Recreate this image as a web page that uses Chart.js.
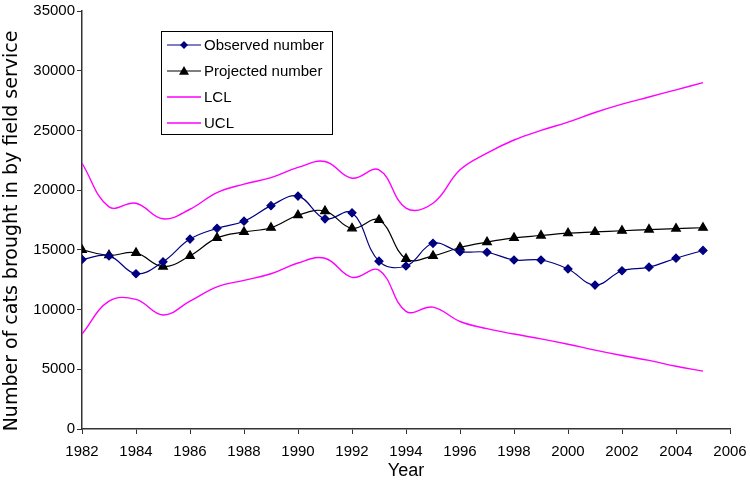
<!DOCTYPE html>
<html>
<head>
<meta charset="utf-8">
<script src="https://cdn.jsdelivr.net/npm/chart.js@4.4.1/dist/chart.umd.min.js"></script>
<style>
  html, body { margin: 0; padding: 0; background: #fff; }
  #wrap { width: 750px; height: 484px; }
</style>
</head>
<body>
<div id="wrap"><canvas id="catsChart" width="750" height="484"></canvas></div>
<script>
const years = [1982,1983,1984,1985,1986,1987,1988,1989,1990,1991,1992,1993,
               1994,1995,1996,1997,1998,1999,2000,2001,2002,2003,2004,2005];

const observed = [14200,14500,13000,14000,15900,16800,17400,18700,19500,17600,18100,14050,
                  13650,15550,14850,14800,14150,14150,13400,12050,13250,13550,14300,14950];

const projected = [15000,14550,14750,13600,14500,16000,16500,16850,17900,18250,16800,17500,
                   14250,14500,15200,15650,16000,16200,16400,16500,16600,16700,16780,16850];

const lcl = [7950,10700,10850,9550,10700,11900,12450,13000,13900,14300,12700,13300,
             9850,10200,9000,8400,7950,7550,7100,6600,6150,5750,5250,4850];

const ucl = [22250,18600,18900,17600,18400,19800,20500,21050,21900,22400,21000,21700,
             18500,18900,21700,23100,24200,25000,25700,26500,27200,27800,28400,29000];

const xTicks = { min: 1982, max: 2006, step: 2 };
const yTicks = { min: 0, max: 35000, step: 5000 };

const yTitle = "Number of cats brought in by field service";

const toPoints = arr => arr.map((v, i) => ({ x: years[i], y: v }));

const tickFont = { family: "'Liberation Sans', Arial, sans-serif", size: 15 };

// legend box drawn inside the plot, like the Excel original
const boxLegend = {
  id: "boxLegend",
  afterDraw(chart) {
    const c = chart.ctx;
    const left = 161, top = 31, w = 171, h = 103;
    c.save();
    c.fillStyle = "#fff";
    c.fillRect(left, top, w, h);
    c.strokeStyle = "#000";
    c.lineWidth = 1;
    c.strokeRect(left + 0.5, top + 0.5, w, h);
    const rows = [45, 71, 97, 123];
    chart.data.datasets.forEach((ds, i) => {
      const y = rows[i];
      c.strokeStyle = ds.borderColor;
      c.lineWidth = ds.borderWidth;
      c.beginPath();
      c.moveTo(167, y);
      c.lineTo(201, y);
      c.stroke();
      if (ds.pointRadius > 0) {
        c.fillStyle = ds.pointBackgroundColor;
        c.beginPath();
        if (ds.pointStyle === "rectRot") {
          const r = 4;
          c.moveTo(184, y - r); c.lineTo(184 + r, y); c.lineTo(184, y + r); c.lineTo(184 - r, y);
        } else {
          const r = 5;
          c.moveTo(184, y - r); c.lineTo(184 + r, y + r * 0.75); c.lineTo(184 - r, y + r * 0.75);
        }
        c.closePath();
        c.fill();
      }
      c.fillStyle = "#000";
      c.font = "15px 'Liberation Sans', Arial, sans-serif";
      c.textBaseline = "middle";
      c.fillText(ds.label, 204, y + 1);
    });
    // y axis title, sits a little lower than the plot centre in the original
    c.translate(12, 231);
    c.rotate(-Math.PI / 2);
    c.font = "19px 'DejaVu Sans', sans-serif";
    c.textAlign = "center";
    c.textBaseline = "middle";
    c.fillText(yTitle, 0, 0);
    c.restore();
  }
};

new Chart(document.getElementById("catsChart"), {
  type: "line",
  data: {
    datasets: [
      {
        label: "Observed number",
        data: toPoints(observed),
        borderColor: "#000080",
        backgroundColor: "#000080",
        pointBackgroundColor: "#000080",
        pointBorderColor: "#000080",
        pointStyle: "rectRot",
        pointRadius: 4,
        borderWidth: 1.2,
        tension: 0.4
      },
      {
        label: "Projected number",
        data: toPoints(projected),
        borderColor: "#000000",
        backgroundColor: "#000000",
        pointBackgroundColor: "#000000",
        pointBorderColor: "#000000",
        pointStyle: "triangle",
        pointRadius: 5,
        borderWidth: 1.2,
        tension: 0.4
      },
      {
        label: "LCL",
        data: toPoints(lcl),
        borderColor: "#ff00ff",
        pointRadius: 0,
        borderWidth: 1.4,
        tension: 0.4
      },
      {
        label: "UCL",
        data: toPoints(ucl),
        borderColor: "#ff00ff",
        pointRadius: 0,
        borderWidth: 1.4,
        tension: 0.4
      }
    ]
  },
  options: {
    responsive: false,
    animation: false,
    layout: { padding: { left: 0, top: 8, right: 20, bottom: 0 } },
    plugins: {
      legend: { display: false },
      tooltip: { enabled: false }
    },
    scales: {
      x: {
        type: "linear",
        min: xTicks.min,
        max: xTicks.max,
        afterFit: s => { s.height = 55; s.paddingRight = 0; s.paddingLeft = 0; },
        border: { color: "#333", width: 1.5 },
        grid: { drawOnChartArea: false, drawTicks: true, tickLength: 5, color: "#333" },
        ticks: {
          stepSize: xTicks.step,
          color: "#000",
          font: tickFont,
          padding: 9,
          maxRotation: 0,
          callback: v => String(v)
        },
        title: {
          display: true,
          text: "Year",
          color: "#000",
          font: { family: "'Liberation Sans', Arial, sans-serif", size: 18 },
          padding: { top: 0, bottom: 2 }
        }
      },
      y: {
        min: yTicks.min,
        max: yTicks.max,
        afterFit: s => { s.width = 82; },
        border: { color: "#333", width: 1.5 },
        grid: { drawOnChartArea: false, drawTicks: true, tickLength: 5, color: "#333" },
        ticks: {
          stepSize: yTicks.step,
          color: "#000",
          font: tickFont,
          padding: 2,
          callback: v => String(v)
        },
        title: { display: false }
      }
    }
  },
  plugins: [boxLegend]
});
</script>
</body>
</html>
